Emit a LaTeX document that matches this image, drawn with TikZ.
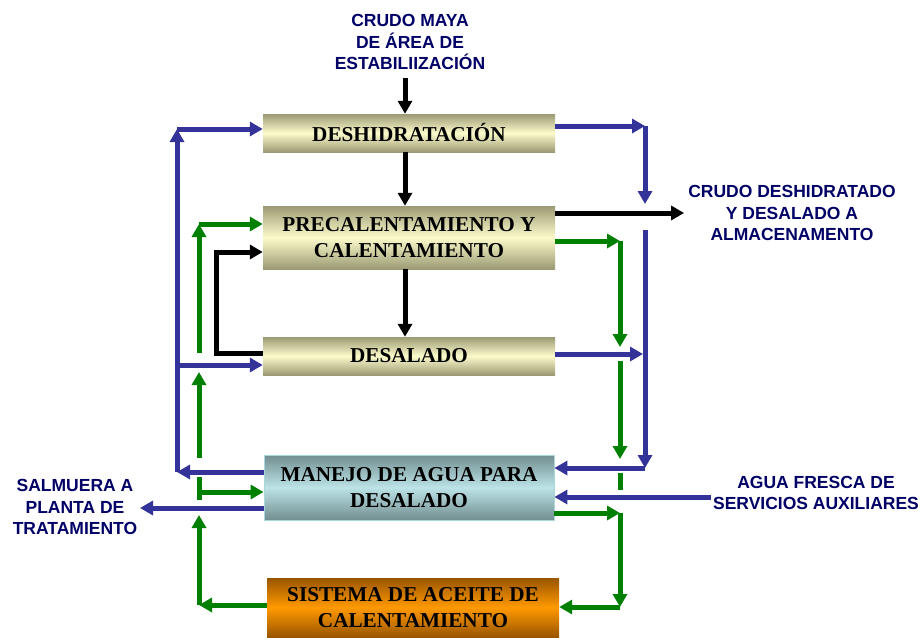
\documentclass[tikz,border=0pt]{standalone}
\usepackage{fontspec}
\setmainfont{Liberation Serif}
\newfontfamily\labfont{Liberation Sans}
\usetikzlibrary{arrows.meta}
\definecolor{fblue}{HTML}{333399}
\definecolor{fgreen}{HTML}{008000}
\definecolor{ltxt}{HTML}{000066}
\definecolor{tanD}{HTML}{9C9A74}
\definecolor{tanL}{HTML}{FCFBCB}
\definecolor{aquaD}{HTML}{728E90}
\definecolor{aquaL}{HTML}{BCE3E7}
\definecolor{aquaB}{HTML}{A8D8DC}
\definecolor{orD}{HTML}{995500}
\definecolor{orL}{HTML}{FF9900}
\begin{document}
\begin{tikzpicture}[x=1pt,y=-1pt,
  flow/.style={line width=5pt,-{Triangle[length=13pt,width=14pt]}},
  bl/.style={flow,draw=fblue},
  gr/.style={flow,draw=fgreen},
  bk/.style={flow,draw=black},
  plaingr/.style={line width=5pt,draw=fgreen},
  box/.style={minimum width=292pt,inner sep=0pt,align=center,
    font=\fontsize{21.2}{26}\selectfont\bfseries},
  tanbox/.style={box,top color=tanD,bottom color=tanD,middle color=tanL},
  aquabox/.style={box,top color=aquaD,bottom color=aquaD,middle color=aquaL,draw=aquaB,line width=0.8pt},
  orbox/.style={box,top color=orD,bottom color=orD,middle color=orL},
  lab/.style={inner sep=0pt,align=center,text=ltxt,
    font=\labfont\bfseries\fontsize{17.5}{21.5}\selectfont}]
\useasboundingbox (0,0) rectangle (923,637);

% boxes
\node[tanbox,minimum height=38pt] (deshid) at (409,133) {DESHIDRATACIÓN};
\node[tanbox,minimum height=63pt] (precal) at (409,237.5) {PRECALENTAMIENTO Y\\CALENTAMIENTO};
\node[tanbox,minimum height=38pt] (desal) at (409,356) {DESALADO};
\node[aquabox,minimum width=290pt,minimum height=65pt] (manejo) at (409,487.5) {MANEJO DE AGUA PARA\\DESALADO};
\node[orbox,minimum height=59pt] (sistema) at (413,607.5) {SISTEMA DE ACEITE DE\\CALENTAMIENTO};

% labels
\node[lab] (maya) at (410,42) {CRUDO MAYA\\DE ÁREA DE\\ESTABILIIZACIÓN};
\node[lab] (dest) at (792,213) {CRUDO DESHIDRATADO\\Y DESALADO A\\ALMACENAMENTO};
\node[lab] (salm) at (75,507) {SALMUERA A\\PLANTA DE\\TRATAMIENTO};
\node[lab] (agua) at (816,493) {AGUA FRESCA DE\\SERVICIOS AUXILIARES};

% coordinates
\coordinate (mayaout) at (405,78);
\coordinate (k1) at (216,353);
\coordinate (k2) at (216,252);
\coordinate (b1) at (177,472);
\coordinate (b2) at (177,129);
\coordinate (b3) at (177,365);
\coordinate (b4) at (645,126);
\coordinate (b5) at (645,204);
\coordinate (b6) at (645,230);
\coordinate (b7) at (645,468);
\coordinate (b8) at (643,354);
\coordinate (b9) at (711,497);
\coordinate (b10) at (140,508);
\coordinate (g1) at (620,241);
\coordinate (g2) at (620,347);
\coordinate (g3) at (620,361);
\coordinate (g4) at (620,459);
\coordinate (g5) at (620,473);
\coordinate (g6) at (620,490);
\coordinate (g7) at (620,513);
\coordinate (g8) at (620,607);
\coordinate (g9) at (199,605);
\coordinate (g10) at (199,515);
\coordinate (g11) at (199,477);
\coordinate (g12) at (199,500);
\coordinate (g13) at (199,492);
\coordinate (g14) at (199,458);
\coordinate (g15) at (199,372);
\coordinate (g16) at (199,353);
\coordinate (g17) at (199,224);

% black
\draw[bk] (mayaout) -- (mayaout |- deshid.north);
\draw[bk] (deshid.south -| mayaout) -- (precal.north -| mayaout);
\draw[bk] (precal.south -| mayaout) -- (desal.north -| mayaout);
\draw[bk] (desal.west |- k1) -- (k1) -- (k2) -- (precal.west |- k2);
\draw[bk] (precal.east |- dest.west) -- ([xshift=-4pt]dest.west);

% blue
\draw[bl] (manejo.west |- b1) -- (b1);
\draw[bl] (b1) -- (b2);
\draw[bl] (b2) -- (deshid.west |- b2);
\draw[bl] (b3) -- (desal.west |- b3);
\draw[bl] (deshid.east |- b4) -- (b4);
\draw[bl] (b4) -- (b5);
\draw[bl] (b6) -- (b7);
\draw[bl] (b7) -- (manejo.east |- b7);
\draw[bl] (desal.east |- b8) -- (b8);
\draw[bl] (b9) -- (manejo.east |- b9);
\draw[bl] (manejo.west |- b10) -- (b10);

% green
\draw[gr] (precal.east |- g1) -- (g1);
\draw[gr] (g1) -- (g2);
\draw[gr] (g3) -- (g4);
\draw[plaingr] (g5) -- (g6);
\draw[gr] (manejo.east |- g7) -- (g7);
\draw[gr] (g7) -- (g8);
\draw[gr] (g8) -- (sistema.east |- g8);
\draw[gr] (sistema.west |- g9) -- (g9);
\draw[gr] (g9) -- (g10);
\draw[plaingr] (g11) -- (g12);
\draw[gr] (g13) -- (manejo.west |- g13);
\draw[gr] (g14) -- (g15);
\draw[gr] (g16) -- (g17);
\draw[gr] (g17) -- (precal.west |- g17);
\end{tikzpicture}
\end{document}
